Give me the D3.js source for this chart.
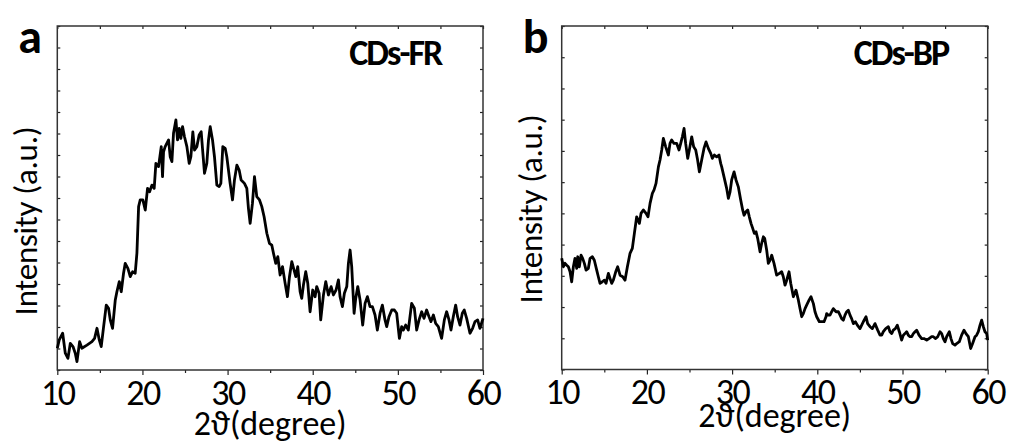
<!DOCTYPE html>
<html>
<head>
<meta charset="utf-8">
<script src="https://cdn.jsdelivr.net/npm/d3@7"></script>
<style>
  html, body { margin: 0; padding: 0; background: #fff; }
  svg { display: block; }
  text { font-family: Carlito, Lato, "Open Sans", sans-serif; fill: #000; }
</style>
</head>
<body>
<svg id="chart" width="1011" height="443"></svg>
<script>
// XRD pattern of CDs-FR: 2θ (degree) and intensity (a.u.)
const twoThetaFR = [10.00,10.23,10.63,10.94,11.25,11.53,11.84,12.11,12.31,12.62,
  12.89,13.48,14.07,14.38,14.66,14.93,15.16,15.44,15.75,16.02,
  16.22,16.49,16.81,17.00,17.28,17.51,17.78,17.98,18.29,18.57,
  18.84,19.15,19.35,19.55,19.74,20.05,20.33,20.60,20.84,21.11,
  21.38,21.58,21.89,22.21,22.36,22.48,22.67,23.07,23.26,23.46,
  23.65,23.93,24.12,24.32,24.51,24.71,24.94,25.22,25.49,25.69,
  25.92,26.12,26.39,26.66,26.90,27.10,27.29,27.56,27.76,27.96,
  28.23,28.46,28.74,29.01,29.21,29.44,29.72,29.91,30.30,30.58,
  30.81,31.09,31.36,31.59,31.98,32.26,32.45,32.65,32.92,33.16,
  33.43,33.75,34.02,34.29,34.61,34.92,35.19,35.39,35.66,35.90,
  36.17,36.45,36.76,37.03,37.27,37.54,37.81,38.01,38.24,38.52,
  38.71,38.91,39.18,39.42,39.69,40.00,40.28,40.47,40.75,40.94,
  41.26,41.53,41.84,42.16,42.43,42.74,43.02,43.21,43.49,43.72,
  44.00,44.19,44.39,44.58,44.86,45.05,45.29,45.56,45.87,46.15,
  46.42,46.73,47.01,47.32,47.59,47.91,48.18,48.49,48.69,48.96,
  49.28,49.59,49.86,50.18,50.45,50.65,50.92,51.23,51.62,51.94,
  52.21,52.49,52.80,53.07,53.38,53.66,53.89,54.17,54.44,54.75,
  55.14,55.46,55.73,56.01,56.24,56.51,56.79,57.02,57.30,57.57,
  57.80,58.08,58.47,58.78,59.06,59.37,59.64,60.00];
const intensityFR = [101,140,171,78,54,124,109,78,39,132,
  101,116,132,147,194,140,109,202,302,287,
  233,194,326,364,411,364,450,496,473,434,
  457,450,543,760,791,791,744,845,829,860,
  845,961,946,1039,899,1015,1039,1070,992,969,
  1101,1163,1070,1124,1077,1132,1085,1039,961,992,
  1108,1023,1039,1093,1108,1008,915,961,1070,1132,
  1070,992,860,853,868,1039,1031,992,868,791,
  884,953,930,884,868,845,752,682,775,899,
  806,791,760,713,636,589,581,543,496,527,
  442,481,403,341,434,504,465,434,481,364,
  333,395,457,403,271,372,341,388,357,233,
  349,411,349,388,349,372,419,341,295,357,
  388,496,558,481,264,333,388,326,209,310,
  341,295,295,256,186,264,302,233,202,248,
  279,279,264,147,202,186,209,186,310,287,
  186,233,271,240,279,248,225,256,217,202,
  147,233,271,233,186,248,302,248,209,264,
  279,240,171,194,225,233,194,240];

// XRD pattern of CDs-BP: 2θ (degree) and intensity (a.u.)
const twoThetaBP = [10.00,10.20,10.39,10.59,10.78,10.98,11.17,11.37,11.56,11.76,
  11.88,12.07,12.27,12.46,12.66,12.86,13.13,13.33,13.60,13.83,
  14.11,14.30,14.50,14.77,15.01,15.20,15.48,15.67,15.87,16.06,
  16.34,16.57,16.85,17.16,17.43,17.71,18.02,18.29,18.53,18.80,
  19.12,19.31,19.58,19.90,20.13,20.37,20.64,20.84,21.07,21.35,
  21.54,21.74,21.93,22.21,22.52,22.71,22.91,23.18,23.50,23.77,
  23.97,24.16,24.36,24.55,24.79,24.98,25.26,25.49,25.73,25.92,
  26.16,26.43,26.70,26.94,27.21,27.49,27.68,27.92,28.19,28.46,
  28.66,28.78,29.05,29.36,29.56,29.76,29.95,30.23,30.46,30.73,
  31.01,31.24,31.40,31.63,31.83,32.02,32.22,32.42,32.61,32.81,
  33.00,33.28,33.47,33.67,33.82,34.06,34.25,34.45,34.65,34.92,
  35.23,35.55,35.82,36.01,36.21,36.41,36.68,36.88,37.19,37.34,
  37.50,37.78,37.97,38.17,38.36,38.56,38.75,39.03,39.26,39.54,
  39.73,39.93,40.24,40.51,40.79,41.02,41.10,41.30,41.49,41.69,
  41.88,42.20,42.47,42.67,42.86,43.06,43.25,43.45,43.64,43.84,
  44.03,44.23,44.47,44.70,45.01,45.21,45.40,45.72,45.91,46.19,
  46.46,46.77,47.09,47.36,47.56,47.75,48.03,48.34,48.53,48.73,
  48.92,49.16,49.39,49.63,49.90,50.10,50.29,50.49,50.68,50.88,
  51.08,51.27,51.47,51.66,51.94,52.25,52.52,52.84,53.11,53.42,
  53.62,53.89,54.13,54.40,54.60,54.79,54.99,55.18,55.50,55.69,
  55.89,56.16,56.36,56.67,56.94,57.22,57.45,57.73,58.00,58.23,
  58.51,58.70,58.90,59.10,59.29,59.49,59.68,59.88,60.00];
const intensityBP = [356,329,340,334,329,313,281,329,356,324,
  361,329,366,356,340,318,324,356,361,350,
  318,297,276,281,286,276,308,292,276,286,
  313,329,302,297,286,329,372,388,436,489,
  468,500,511,500,489,532,564,575,596,649,
  671,703,740,713,687,724,735,724,724,703,
  724,745,772,724,676,703,745,713,703,676,
  633,671,708,729,708,692,676,687,681,687,
  660,649,617,580,548,569,607,633,607,585,
  543,511,494,505,511,489,468,452,436,441,
  420,377,404,425,420,382,340,350,366,340,
  302,308,313,297,270,286,313,276,233,244,
  254,222,195,169,179,195,206,222,233,211,
  185,169,153,153,153,169,179,174,174,185,
  195,185,185,174,163,158,174,185,190,174,
  163,147,153,142,131,142,153,169,147,137,
  131,147,126,110,110,121,131,137,121,115,
  126,131,142,121,94,110,115,121,110,105,
  105,115,121,126,110,99,99,94,99,105,
  105,99,105,121,115,99,89,105,121,99,
  83,78,83,89,110,126,115,105,67,83,
  105,110,121,142,158,137,121,115,94];

const xMajorTicks = [10, 20, 30, 40, 50, 60];
const xMinorTicks = [15, 25, 35, 45, 55];
const panelLetters = ["a", "b"];
const sampleNames = ["CDs-FR", "CDs-BP"];
const xTitle = "(degree)";
const yTitle = "Intensity (a.u.)";

const svg = d3.select("#chart");

const panels = [
  { theta: twoThetaFR, inten: intensityFR, yMax: 1600, yStep: 100,
    left: 57.3, right: 483, top: 26, bottom: 370,
    tickBase: 35, titleBase: 65, yTitleCenter: 221 },
  { theta: twoThetaBP, inten: intensityBP, yMax: 1100, yStep: 100,
    left: 561.7, right: 987.7, top: 26, bottom: 369.5,
    tickBase: 34, titleBase: 57, yTitleCenter: 209 }
];

panels.forEach((p, i) => {
  const x = d3.scaleLinear().domain([10, 60]).range([p.left, p.right]);
  const y = d3.scaleLinear().domain([0, p.yMax]).range([p.bottom, p.top]);
  const g = svg.append("g");
  const yTicks = d3.range(0, p.yMax + 1, p.yStep);
  const allX = xMajorTicks.concat(xMinorTicks);

  const styleAxis = sel => {
    sel.select(".domain").remove();
    sel.selectAll(".tick line").attr("stroke", "#222").attr("stroke-width", 1.2);
  };

  // bottom: labelled majors, short minors, both outward
  g.append("g").attr("transform", `translate(0,${p.bottom})`)
    .call(d3.axisBottom(x).tickValues(xMajorTicks).tickSize(5).tickFormat(d3.format("d")))
    .call(styleAxis)
    .call(s => s.selectAll(".tick text")
      .attr("y", p.tickBase).attr("dy", null).attr("fill", "#000")
      .style("font-size", "36px").style("letter-spacing", "-1.5px"));
  g.append("g").attr("transform", `translate(0,${p.bottom})`)
    .call(d3.axisBottom(x).tickValues(xMinorTicks).tickSize(3).tickFormat(""))
    .call(styleAxis);

  // top: inward ticks
  g.append("g").attr("transform", `translate(0,${p.top})`)
    .call(d3.axisTop(x).tickValues(allX).tickSize(-3).tickFormat(""))
    .call(styleAxis);

  // left and right: inward ticks, no labels
  g.append("g").attr("transform", `translate(${p.left},0)`)
    .call(d3.axisLeft(y).tickValues(yTicks).tickSize(-3).tickFormat(""))
    .call(styleAxis);
  g.append("g").attr("transform", `translate(${p.right},0)`)
    .call(d3.axisRight(y).tickValues(yTicks).tickSize(-3).tickFormat(""))
    .call(styleAxis);

  // frame
  g.append("rect")
    .attr("x", p.left).attr("y", p.top)
    .attr("width", p.right - p.left).attr("height", p.bottom - p.top)
    .attr("fill", "none").attr("stroke", "#333").attr("stroke-width", 1.5);

  // pattern
  const pts = d3.zip(p.theta, p.inten);
  const line = d3.line().x(d => x(d[0])).y(d => y(d[1]));
  g.append("path").datum(pts)
    .attr("d", line)
    .attr("fill", "none").attr("stroke", "#000")
    .attr("stroke-width", 2.8).attr("stroke-linejoin", "round");

  // panel letter
  g.append("text")
    .attr("x", p.left - 39).attr("y", 53)
    .style("font-size", "48px").style("font-weight", "bold")
    .text(panelLetters[i]);

  // sample name
  g.append("text")
    .attr("x", p.left + 292).attr("y", 65)
    .style("font-size", "36px").style("font-weight", "bold")
    .style("letter-spacing", "-2px")
    .text(sampleNames[i]);

  // y title
  g.append("text")
    .attr("transform", `translate(${p.left - 20},${p.yTitleCenter}) rotate(-90)`)
    .attr("text-anchor", "middle")
    .style("font-size", "33px").style("letter-spacing", "-0.3px")
    .text(yTitle);

  // x title: 2ϑ (degree)
  const xt = g.append("text")
    .attr("x", (p.left + p.right) / 2).attr("y", p.bottom + p.titleBase)
    .attr("text-anchor", "middle")
    .style("font-size", "34px");
  xt.append("tspan").text("2\u03D1");
  xt.append("tspan").text(xTitle);
});
</script>
</body>
</html>
